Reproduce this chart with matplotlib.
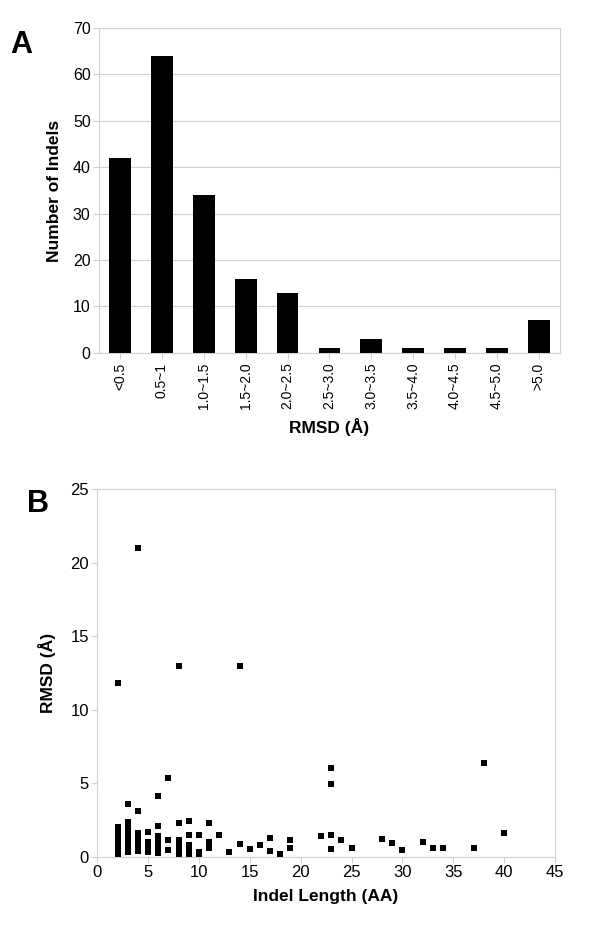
import matplotlib
matplotlib.use('Agg')
import matplotlib.pyplot as plt

plt.rcParams['font.family'] = ['Liberation Sans', 'DejaVu Sans']

# panel A: histogram of RMSD
bins = ['<0.5', '0.5~1', '1.0~1.5', '1.5~2.0', '2.0~2.5', '2.5~3.0',
        '3.0~3.5', '3.5~4.0', '4.0~4.5', '4.5~5.0', '>5.0']
counts = [42, 64, 34, 16, 13, 1, 3, 1, 1, 1, 7]

# panel B: RMSD per indel length (AA)
rmsd_by_length = {
    2: [0.21, 0.28, 0.33, 0.38, 0.42, 0.46, 0.52, 0.56, 0.61, 0.65, 0.7, 0.74,
        0.79, 0.83, 0.88, 0.93, 0.98, 1.04, 1.1, 1.17, 1.25, 1.34, 1.42, 1.55,
        1.68, 1.82, 1.95, 2.02, 11.8],
    3: [0.35, 0.41, 0.47, 0.53, 0.58, 0.63, 0.69, 0.75, 0.81, 0.87, 0.94, 1.02,
        1.1, 1.2, 1.32, 1.45, 1.6, 1.78, 1.95, 2.12, 2.35, 3.6],
    4: [0.4, 0.46, 0.52, 0.58, 0.64, 0.7, 0.77, 0.85, 0.93, 1.02, 1.12, 1.24,
        1.38, 1.6, 3.1, 21.0],
    5: [0.35, 0.42, 0.49, 0.56, 0.63, 0.71, 0.8, 0.9, 1.0, 1.7],
    6: [0.27, 0.34, 0.42, 0.5, 0.58, 0.67, 0.77, 0.88, 1.0, 1.13, 1.27, 1.4,
        2.1, 4.15],
    7: [0.47, 1.15, 5.4],
    8: [0.17, 0.25, 0.33, 0.42, 0.52, 0.63, 0.75, 0.88, 1.02, 1.17, 2.3, 13.0],
    9: [0.17, 0.25, 0.34, 0.44, 0.55, 0.67, 0.8, 1.5, 2.45],
    10: [0.22, 0.36, 1.5],
    11: [0.6, 0.75, 1.05, 2.3],
    12: [1.5],
    13: [0.35],
    14: [0.9, 13.0],
    15: [0.57],
    16: [0.8],
    17: [0.4, 1.3],
    18: [0.18],
    19: [0.63, 1.13],
    22: [1.43],
    23: [0.52, 1.47, 4.95, 6.05],
    24: [1.15],
    25: [0.58],
    28: [1.22],
    29: [0.93],
    30: [0.47],
    32: [1.04],
    33: [0.58],
    34: [0.58],
    37: [0.58],
    38: [6.4],
    40: [1.65],
}

indel_len = []
indel_rmsd = []
for length, vals in rmsd_by_length.items():
    indel_len += [length] * len(vals)
    indel_rmsd += vals

spine_col = '#d0d0d0'
fig = plt.figure(figsize=(6, 9.36), dpi=100)

# --- A ---
ax1 = fig.add_axes([0.165, 0.623, 0.768, 0.347])
ax1.bar(range(len(bins)), counts, width=0.52, color='black', zorder=3)
ax1.set_ylim(0, 70)
ax1.set_xlim(-0.5, len(bins) - 0.5)
ax1.set_yticks(range(0, 71, 10))
ax1.set_xticks(range(len(bins)))
ax1.set_xticklabels(bins, rotation=90, fontsize=10)
ax1.tick_params(axis='y', labelsize=11.5, length=4, color=spine_col, pad=2)
ax1.tick_params(axis='x', length=4, color=spine_col, pad=3)
ax1.grid(axis='y', color=spine_col, linewidth=0.8, zorder=0)
for s in ax1.spines.values():
    s.set_color(spine_col)
ax1.set_ylabel('Number of Indels', fontsize=12.5, fontweight='bold', labelpad=8)
ax1.set_xlabel('RMSD (Å)', fontsize=12.5, fontweight='bold', labelpad=6)
fig.text(0.017, 0.952, 'A', fontsize=22, fontweight='bold', va='center')

# --- B ---
ax2 = fig.add_axes([0.162, 0.0844, 0.763, 0.3932])
ax2.scatter(indel_len, indel_rmsd, marker='s', s=20, color='black',
            linewidths=0, zorder=3)
ax2.set_xlim(0, 45)
ax2.set_ylim(0, 25)
ax2.set_xticks(range(0, 46, 5))
ax2.set_yticks(range(0, 26, 5))
ax2.tick_params(labelsize=12, length=4, color=spine_col, pad=2)
for s in ax2.spines.values():
    s.set_color(spine_col)
ax2.set_ylabel('RMSD (Å)', fontsize=12.5, fontweight='bold', labelpad=10)
ax2.set_xlabel('Indel Length (AA)', fontsize=12.5, fontweight='bold', labelpad=6)
fig.text(0.045, 0.462, 'B', fontsize=22, fontweight='bold', va='center')

fig.savefig('out.png', dpi=100)
